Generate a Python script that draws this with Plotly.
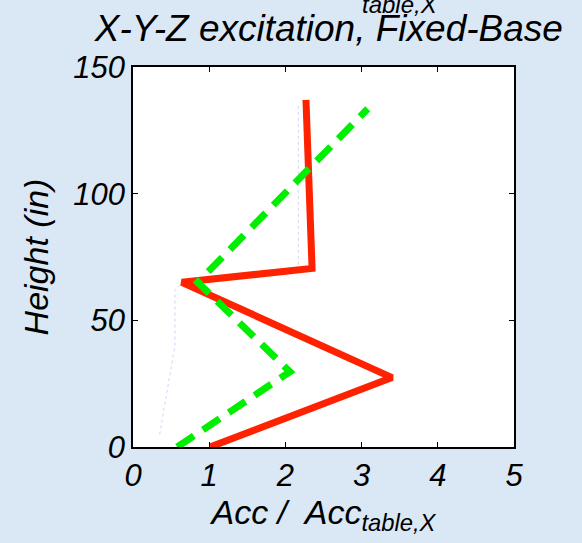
import plotly.graph_objects as go

# Data
red_x = [1.01, 3.40, 0.64, 2.35, 2.27]
red_y = [0.0, 27.4, 65.0, 70.5, 137.0]

green_x = [0.58, 2.06, 0.85, 3.08]
green_y = [0.0, 29.7, 65.0, 133.5]

faint_x = [0.35, 0.55, 0.55, 0.70, 2.17, 2.17]
faint_y = [5.0, 40.0, 62.0, 66.0, 71.0, 136.0]

x_ticks = [0, 1, 2, 3, 4, 5]
y_ticks = [0, 50, 100, 150]

FONT = "Liberation Sans, Arial, sans-serif"
BG = "#dae8f5"

fig = go.Figure()
fig.add_trace(go.Scatter(x=faint_x, y=faint_y, mode="lines",
                         line=dict(color="#d3d6f4", width=1.0, dash="dot"),
                         showlegend=False, hoverinfo="skip"))
fig.add_trace(go.Scatter(x=red_x, y=red_y, mode="lines",
                         line=dict(color="#ff2200", width=7),
                         showlegend=False))
fig.add_trace(go.Scatter(x=green_x, y=green_y, mode="lines",
                         line=dict(color="#00ee00", width=7, dash="20px,11px"),
                         showlegend=False))

axis_common = dict(
    showgrid=False, zeroline=False, showline=True, linecolor="black", linewidth=1.5,
    mirror="allticks", ticks="inside", ticklen=5, tickwidth=1.2, tickcolor="black",
    tickfont=dict(family=FONT, size=31, color="black", style="italic"),
)

fig.update_layout(
    width=582, height=543,
    margin=dict(l=133, r=68, t=67, b=96),
    paper_bgcolor=BG, plot_bgcolor="white",
    font=dict(family=FONT, color="black", style="italic"),
    title=dict(text="X-Y-Z excitation, Fixed-Base", x=0.565, xanchor="center",
               y=0.948, yanchor="middle", yref="container",
               font=dict(family=FONT, size=37, color="black", style="italic")),
    xaxis=dict(range=[0, 5], tickvals=x_ticks, ticktext=[str(v) for v in x_ticks],
               title=dict(text="Acc /  Acc<sub>table,X</sub>", standoff=4,
                          font=dict(family=FONT, size=34, color="black", style="italic")),
               **axis_common),
    yaxis=dict(range=[0, 150], tickvals=y_ticks, ticktext=[str(v) for v in y_ticks],
               title=dict(text="Height (in)", standoff=14,
                          font=dict(family=FONT, size=34, color="black", style="italic")),
               **axis_common),
    annotations=[dict(text="table,X", xref="paper", yref="paper", x=0.70, y=1.165,
                      xanchor="center", yanchor="middle", showarrow=False,
                      font=dict(family=FONT, size=24, color="black", style="italic"))],
)

fig.write_html("out.html")
